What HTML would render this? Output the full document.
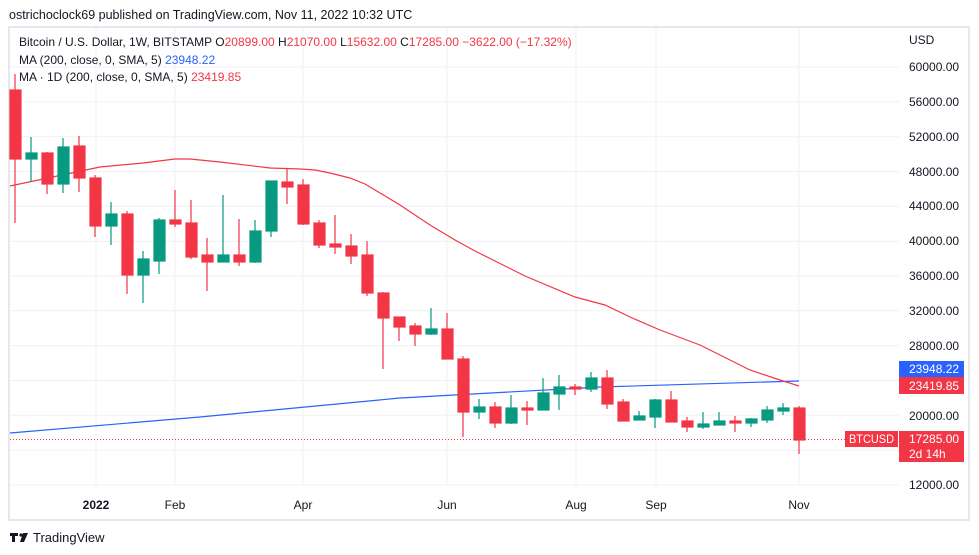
<!DOCTYPE html>
<html><head><meta charset="utf-8"><style>
body{margin:0;background:#fff;width:979px;height:555px;overflow:hidden;font-family:"Liberation Sans","DejaVu Sans",sans-serif}
svg{position:absolute;left:0;top:0}
</style></head><body>
<svg width="979" height="555" xmlns="http://www.w3.org/2000/svg" font-family="Liberation Sans, DejaVu Sans, sans-serif">
<rect x="0" y="0" width="979" height="555" fill="#fff"/>
<text x="9" y="19" font-size="12.5" fill="#131722">ostrichoclock69 published on TradingView.com, Nov 11, 2022 10:32 UTC</text>
<rect x="9" y="27" width="960" height="493" fill="#fff" stroke="#e6e8ee" stroke-width="2"/>
<g stroke="#f0f1f4" stroke-width="1">
<line x1="10" y1="67" x2="899" y2="67"/><line x1="10" y1="101.8" x2="899" y2="101.8"/><line x1="10" y1="136.7" x2="899" y2="136.7"/><line x1="10" y1="171.5" x2="899" y2="171.5"/><line x1="10" y1="206.3" x2="899" y2="206.3"/><line x1="10" y1="241.2" x2="899" y2="241.2"/><line x1="10" y1="276" x2="899" y2="276"/><line x1="10" y1="310.8" x2="899" y2="310.8"/><line x1="10" y1="345.7" x2="899" y2="345.7"/><line x1="10" y1="380.5" x2="899" y2="380.5"/><line x1="10" y1="415.3" x2="899" y2="415.3"/><line x1="10" y1="450.2" x2="899" y2="450.2"/><line x1="10" y1="485" x2="899" y2="485"/>
<line x1="96" y1="28" x2="96" y2="486"/><line x1="175" y1="28" x2="175" y2="486"/><line x1="303" y1="28" x2="303" y2="486"/><line x1="447" y1="28" x2="447" y2="486"/><line x1="576" y1="28" x2="576" y2="486"/><line x1="656" y1="28" x2="656" y2="486"/><line x1="799" y1="28" x2="799" y2="486"/>
</g>
<g font-size="12" fill="#131722">
<text x="909" y="44">USD</text>
<text x="909" y="71">60000.00</text><text x="909" y="106">56000.00</text><text x="909" y="141">52000.00</text><text x="909" y="176">48000.00</text><text x="909" y="210">44000.00</text><text x="909" y="245">40000.00</text><text x="909" y="280">36000.00</text><text x="909" y="315">32000.00</text><text x="909" y="350">28000.00</text><text x="909" y="420">20000.00</text><text x="909" y="489">12000.00</text>
<text x="96" y="509" text-anchor="middle" font-weight="bold">2022</text><text x="175" y="509" text-anchor="middle">Feb</text><text x="303" y="509" text-anchor="middle">Apr</text><text x="447" y="509" text-anchor="middle">Jun</text><text x="576" y="509" text-anchor="middle">Aug</text><text x="656" y="509" text-anchor="middle">Sep</text><text x="799" y="509" text-anchor="middle">Nov</text>
</g>
<line x1="10" y1="439.5" x2="845" y2="439.5" stroke="#F23645" stroke-width="1" stroke-dasharray="1,2"/>
<polyline fill="none" stroke="#2962FF" stroke-width="1.2" points="10,433 200,417 400,398 600,387 799,381"/>
<polyline fill="none" stroke="#F23645" stroke-width="1.2" points="10,186 100,167 143,163 175,159 190,159 220,162 270,168 300,169 315,170 330,173 350,178 365,184 400,205 430,225 455,240 475,251 525,276 575,297 605,305 630,317 660,330 700,345 720,355 750,370 780,380 799,386"/>
<g stroke-width="1.2">
<g stroke="#F23645" fill="#F23645"><line x1="15" y1="74" x2="15" y2="223"/><rect x="10" y="90" width="11" height="69"/></g>
<g stroke="#089981" fill="#089981"><line x1="31" y1="137" x2="31" y2="182"/><rect x="26" y="153" width="11" height="6"/></g>
<g stroke="#F23645" fill="#F23645"><line x1="47" y1="152" x2="47" y2="194"/><rect x="42" y="153" width="11" height="31"/></g>
<g stroke="#089981" fill="#089981"><line x1="63" y1="138" x2="63" y2="193"/><rect x="58" y="147" width="11" height="37"/></g>
<g stroke="#F23645" fill="#F23645"><line x1="79" y1="136" x2="79" y2="192"/><rect x="74" y="146" width="11" height="32"/></g>
<g stroke="#F23645" fill="#F23645"><line x1="95" y1="175" x2="95" y2="237"/><rect x="90" y="178" width="11" height="48"/></g>
<g stroke="#089981" fill="#089981"><line x1="111" y1="202" x2="111" y2="245"/><rect x="106" y="214" width="11" height="12"/></g>
<g stroke="#F23645" fill="#F23645"><line x1="127" y1="211" x2="127" y2="294"/><rect x="122" y="214" width="11" height="61"/></g>
<g stroke="#089981" fill="#089981"><line x1="143" y1="251" x2="143" y2="303"/><rect x="138" y="259" width="11" height="16"/></g>
<g stroke="#089981" fill="#089981"><line x1="159" y1="218" x2="159" y2="274"/><rect x="154" y="220" width="11" height="41"/></g>
<g stroke="#F23645" fill="#F23645"><line x1="175" y1="190" x2="175" y2="227"/><rect x="170" y="220" width="11" height="4"/></g>
<g stroke="#F23645" fill="#F23645"><line x1="191" y1="200" x2="191" y2="259"/><rect x="186" y="223" width="11" height="34"/></g>
<g stroke="#F23645" fill="#F23645"><line x1="207" y1="238" x2="207" y2="291"/><rect x="202" y="255" width="11" height="7"/></g>
<g stroke="#089981" fill="#089981"><line x1="223" y1="195" x2="223" y2="262"/><rect x="218" y="255" width="11" height="7"/></g>
<g stroke="#F23645" fill="#F23645"><line x1="239" y1="219" x2="239" y2="266"/><rect x="234" y="255" width="11" height="7"/></g>
<g stroke="#089981" fill="#089981"><line x1="255" y1="220" x2="255" y2="263"/><rect x="250" y="231" width="11" height="31"/></g>
<g stroke="#089981" fill="#089981"><line x1="271" y1="181" x2="271" y2="237"/><rect x="266" y="181" width="11" height="50"/></g>
<g stroke="#F23645" fill="#F23645"><line x1="287" y1="169" x2="287" y2="204"/><rect x="282" y="182" width="11" height="5"/></g>
<g stroke="#F23645" fill="#F23645"><line x1="303" y1="179" x2="303" y2="225"/><rect x="298" y="185" width="11" height="39"/></g>
<g stroke="#F23645" fill="#F23645"><line x1="319" y1="220" x2="319" y2="248"/><rect x="314" y="223" width="11" height="22"/></g>
<g stroke="#F23645" fill="#F23645"><line x1="335" y1="215" x2="335" y2="254"/><rect x="330" y="244" width="11" height="3"/></g>
<g stroke="#F23645" fill="#F23645"><line x1="351" y1="234" x2="351" y2="264"/><rect x="346" y="246" width="11" height="10"/></g>
<g stroke="#F23645" fill="#F23645"><line x1="367" y1="241" x2="367" y2="296"/><rect x="362" y="255" width="11" height="38"/></g>
<g stroke="#F23645" fill="#F23645"><line x1="383" y1="292" x2="383" y2="369"/><rect x="378" y="293" width="11" height="25"/></g>
<g stroke="#F23645" fill="#F23645"><line x1="399" y1="317" x2="399" y2="341"/><rect x="394" y="317" width="11" height="10"/></g>
<g stroke="#F23645" fill="#F23645"><line x1="415" y1="323" x2="415" y2="346"/><rect x="410" y="326" width="11" height="8"/></g>
<g stroke="#089981" fill="#089981"><line x1="431" y1="308" x2="431" y2="335"/><rect x="426" y="329" width="11" height="5"/></g>
<g stroke="#F23645" fill="#F23645"><line x1="447" y1="313" x2="447" y2="359"/><rect x="442" y="329" width="11" height="30"/></g>
<g stroke="#F23645" fill="#F23645"><line x1="463" y1="356" x2="463" y2="437"/><rect x="458" y="359" width="11" height="53"/></g>
<g stroke="#089981" fill="#089981"><line x1="479" y1="399" x2="479" y2="419"/><rect x="474" y="407" width="11" height="5"/></g>
<g stroke="#F23645" fill="#F23645"><line x1="495" y1="402" x2="495" y2="428"/><rect x="490" y="407" width="11" height="16"/></g>
<g stroke="#089981" fill="#089981"><line x1="511" y1="395" x2="511" y2="424"/><rect x="506" y="408" width="11" height="15"/></g>
<g stroke="#F23645" fill="#F23645"><line x1="527" y1="401" x2="527" y2="425"/><rect x="522" y="408" width="11" height="2"/></g>
<g stroke="#089981" fill="#089981"><line x1="543" y1="378" x2="543" y2="410"/><rect x="538" y="393" width="11" height="17"/></g>
<g stroke="#089981" fill="#089981"><line x1="559" y1="375" x2="559" y2="410"/><rect x="554" y="387" width="11" height="7"/></g>
<g stroke="#F23645" fill="#F23645"><line x1="575" y1="384" x2="575" y2="395"/><rect x="570" y="387" width="11" height="2"/></g>
<g stroke="#089981" fill="#089981"><line x1="591" y1="372" x2="591" y2="392"/><rect x="586" y="378" width="11" height="11"/></g>
<g stroke="#F23645" fill="#F23645"><line x1="607" y1="370" x2="607" y2="409"/><rect x="602" y="378" width="11" height="26"/></g>
<g stroke="#F23645" fill="#F23645"><line x1="623" y1="399" x2="623" y2="421"/><rect x="618" y="402" width="11" height="19"/></g>
<g stroke="#089981" fill="#089981"><line x1="639" y1="411" x2="639" y2="420"/><rect x="634" y="416" width="11" height="4"/></g>
<g stroke="#089981" fill="#089981"><line x1="655" y1="399" x2="655" y2="428"/><rect x="650" y="400" width="11" height="17"/></g>
<g stroke="#F23645" fill="#F23645"><line x1="671" y1="391" x2="671" y2="422"/><rect x="666" y="400" width="11" height="22"/></g>
<g stroke="#F23645" fill="#F23645"><line x1="687" y1="417" x2="687" y2="432"/><rect x="682" y="421" width="11" height="6"/></g>
<g stroke="#089981" fill="#089981"><line x1="703" y1="412" x2="703" y2="429"/><rect x="698" y="424" width="11" height="3"/></g>
<g stroke="#089981" fill="#089981"><line x1="719" y1="412" x2="719" y2="425"/><rect x="714" y="421" width="11" height="4"/></g>
<g stroke="#F23645" fill="#F23645"><line x1="735" y1="416" x2="735" y2="432"/><rect x="730" y="421" width="11" height="2"/></g>
<g stroke="#089981" fill="#089981"><line x1="751" y1="418" x2="751" y2="427"/><rect x="746" y="419" width="11" height="4"/></g>
<g stroke="#089981" fill="#089981"><line x1="767" y1="406" x2="767" y2="423"/><rect x="762" y="410" width="11" height="10"/></g>
<g stroke="#089981" fill="#089981"><line x1="783" y1="403" x2="783" y2="415"/><rect x="778" y="408" width="11" height="3"/></g>
<g stroke="#F23645" fill="#F23645"><line x1="799" y1="406" x2="799" y2="454"/><rect x="794" y="408" width="11" height="32"/></g>
</g>
<text x="19" y="46" font-size="12" fill="#131722">Bitcoin / U.S. Dollar, 1W, BITSTAMP <tspan>O</tspan><tspan fill="#F23645">20899.00</tspan> H<tspan fill="#F23645">21070.00</tspan> L<tspan fill="#F23645">15632.00</tspan> C<tspan fill="#F23645">17285.00 −3622.00 (−17.32%)</tspan></text>
<text x="19" y="64" font-size="12" fill="#131722">MA (200, close, 0, SMA, 5) <tspan fill="#2962FF">23948.22</tspan></text>
<text x="19" y="81" font-size="12" fill="#131722">MA · 1D (200, close, 0, SMA, 5) <tspan fill="#F23645">23419.85</tspan></text>
<rect x="899" y="361" width="65" height="16" fill="#2962FF"/>
<text x="909" y="373" font-size="12" fill="#fff">23948.22</text>
<rect x="899" y="377" width="65" height="17" fill="#F23645"/>
<text x="909" y="390" font-size="12" fill="#fff">23419.85</text>
<rect x="845" y="431" width="53" height="16" fill="#F23645"/>
<text x="849" y="443" font-size="12" fill="#fff" textLength="45" lengthAdjust="spacingAndGlyphs">BTCUSD</text>
<rect x="899" y="431" width="65" height="31" fill="#F23645"/>
<text x="909" y="443" font-size="12" fill="#fff">17285.00</text>
<text x="909" y="458" font-size="12" fill="#fff">2d 14h</text>
<g fill="#131722"><rect x="10" y="533" width="8" height="3"/><rect x="12" y="533" width="3" height="9"/><circle cx="21" cy="535" r="1.6"/><polygon points="23,533 28,533 24,542 20,542"/></g>
<text x="33" y="542" font-size="13" fill="#131722">TradingView</text>
</svg>
</body></html>
